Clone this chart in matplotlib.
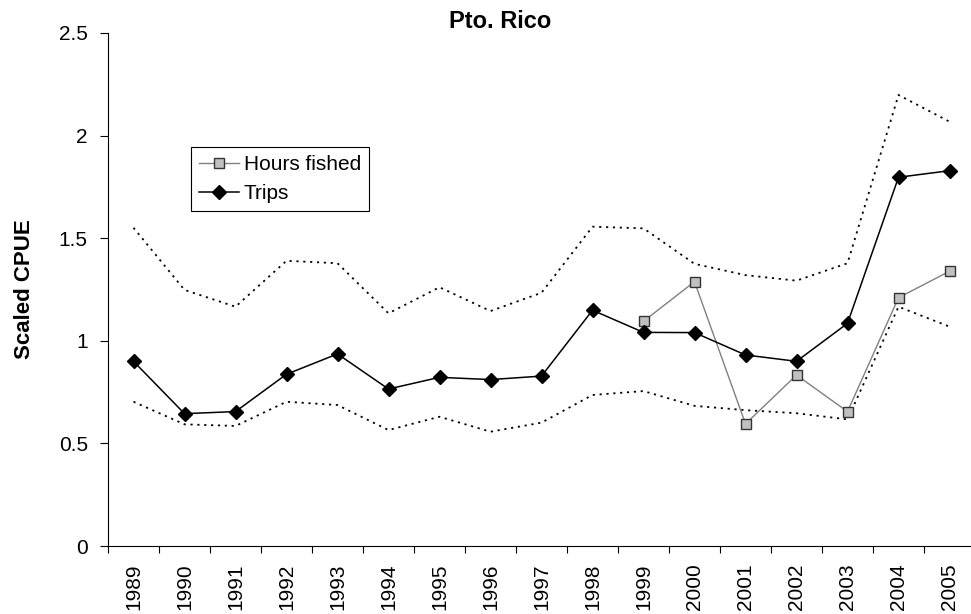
import numpy as np
import matplotlib
matplotlib.use("Agg")
import matplotlib.pyplot as plt

plt.rcParams['font.family'] = ['Liberation Sans', 'DejaVu Sans']

years = list(range(1989, 2006))
trips = [0.900, 0.645, 0.655, 0.837, 0.936, 0.765, 0.822, 0.811, 0.828,
         1.149, 1.041, 1.040, 0.931, 0.900, 1.085, 1.797, 1.829]
hours_years = list(range(1999, 2006))
hours = [1.095, 1.288, 0.595, 0.833, 0.655, 1.210, 1.339]
# confidence band around the trips index
upper = [1.551, 1.248, 1.166, 1.390, 1.378, 1.134, 1.261, 1.145, 1.234,
         1.556, 1.548, 1.375, 1.320, 1.293, 1.378, 2.198, 2.068]
lower = [0.703, 0.593, 0.585, 0.703, 0.687, 0.565, 0.630, 0.557, 0.601,
         0.736, 0.755, 0.683, 0.662, 0.647, 0.617, 1.166, 1.069]
ytick_vals = [0, 0.5, 1, 1.5, 2, 2.5]
ytick_labels = ['0', '0.5', '1', '1.5', '2', '2.5']

xi = np.arange(len(years))
xh = np.array([years.index(y) for y in hours_years])

fig = plt.figure(figsize=(9.71, 6.14), dpi=100)
ax = fig.add_axes([108 / 971, 68 / 614, 867 / 971, 513 / 614])

for band in (upper, lower):
    ax.plot(xi, band, color='black', lw=1.3, linestyle=(0, (1.2, 2.6)))

ax.plot(xh, hours, color='#808080', lw=1.0, marker='s', ms=7.5,
        markerfacecolor='#c0c0c0', markeredgecolor='#333333', markeredgewidth=1.0,
        label='Hours fished', zorder=3)
ax.plot(xi, trips, color='black', lw=1.1, marker='D', ms=7.5,
        label='Trips', zorder=4)

ax.set_xlim(-0.5, len(years) - 0.5)
ax.set_ylim(0, 2.5)

# ticks sit between categories, year labels in the middle
ax.set_xticks(np.arange(-0.5, len(years), 1))
ax.set_xticklabels([])
ax.set_xticks(xi, minor=True)
ax.set_xticklabels([str(y) for y in years], minor=True)
ax.tick_params(axis='x', which='major', length=5, width=0.8, direction='out')
ax.tick_params(axis='x', which='minor', length=0, pad=12.5, labelsize=15,
               labelrotation=90)

ax.set_yticks(ytick_vals)
ax.set_yticklabels(ytick_labels)
ax.tick_params(axis='y', length=6, width=0.8, direction='out', pad=8.5,
               labelsize=15)

for side in ('top', 'right'):
    ax.spines[side].set_visible(False)
for side in ('left', 'bottom'):
    ax.spines[side].set_linewidth(0.8)

ax.set_ylabel('Scaled CPUE', fontsize=16, fontweight='bold')
ax.yaxis.set_label_coords(-0.084, 0.5)

fig.text(500 / 971, 1 - 21 / 614, 'Pto. Rico', ha='center', va='center',
         fontsize=17, fontweight='bold')

leg = ax.legend(loc='upper left', bbox_to_anchor=(191 / 971, 1 - 147 / 614),
                bbox_transform=fig.transFigure, fontsize=15, frameon=True,
                fancybox=False, edgecolor='black', framealpha=1,
                handlelength=1.9, handletextpad=0.25, borderpad=0.38,
                labelspacing=0.5, borderaxespad=0)
leg.get_frame().set_linewidth(0.8)

fig.savefig('out.png', dpi=100)
